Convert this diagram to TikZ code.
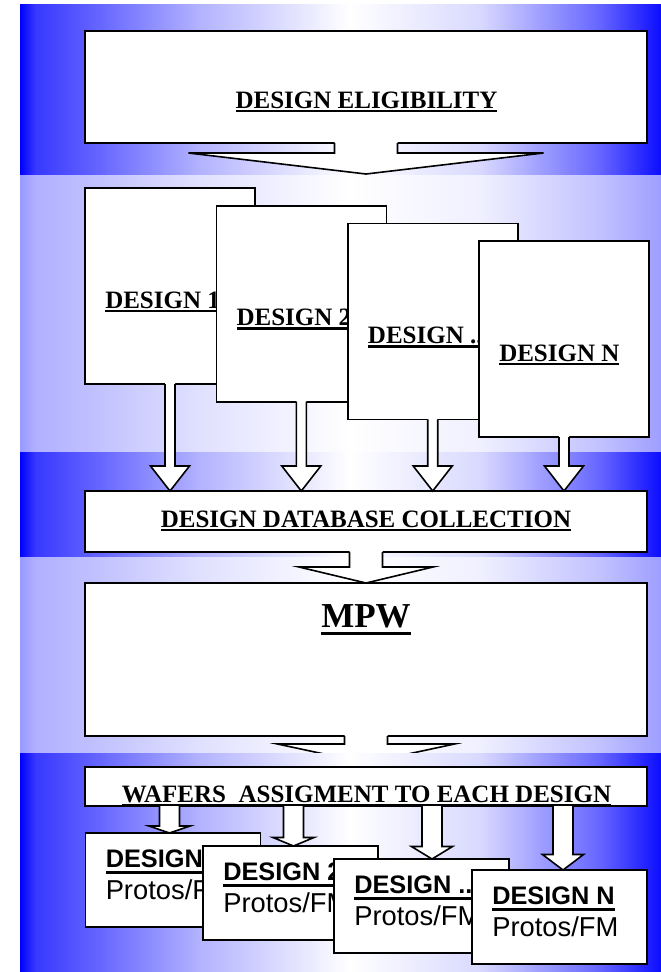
\documentclass[tikz,border=0pt]{standalone}
\usepackage{fontspec}
\setmainfont{Liberation Serif}
\setsansfont{Liberation Sans}
\usetikzlibrary{calc}

% blue side bands, white in the middle
\pgfdeclarehorizontalshading{strongband}{100bp}{rgb(0bp)=(0,0,1); rgb(25bp)=(0,0,1); rgb(26.2bp)=(0.22,0.22,1); rgb(31.2bp)=(0.4,0.4,1); rgb(39bp)=(0.7,0.7,1); rgb(50.7bp)=(1,1,1); rgb(60.9bp)=(0.85,0.85,1); rgb(70.2bp)=(0.4,0.4,1); rgb(75bp)=(0.05,0.05,1); rgb(100bp)=(0.05,0.05,1)}
\pgfdeclarehorizontalshading{lightband}{100bp}{rgb(0bp)=(0.6,0.6,1); rgb(25bp)=(0.6,0.6,1); rgb(26.2bp)=(0.69,0.69,1); rgb(31.2bp)=(0.76,0.76,1); rgb(39bp)=(0.88,0.88,1); rgb(50.7bp)=(1,1,1); rgb(60.9bp)=(0.94,0.94,1); rgb(70.2bp)=(0.76,0.76,1); rgb(75bp)=(0.62,0.62,1); rgb(100bp)=(0.62,0.62,1)}

\tikzset{
  box/.style={draw=black, fill=white, line width=1.2pt, rectangle, inner sep=0pt, outer sep=0pt},
  arrline/.style={draw=black, line width=1.2pt, line join=miter},
  titletxt/.style={font=\bfseries\fontsize{18.75}{22}\selectfont, inner sep=0pt},
  protostxt/.style={font=\sffamily\fontsize{20.5}{24}\selectfont, inner sep=0pt, anchor=base west}
}

\newcommand{\ulser}[1]{\vtop{\hbox{#1}\kern1pt\hrule height 2pt}}
\newcommand{\ulsans}[1]{\vtop{\hbox{\fontsize{19}{24}\selectfont#1}\kern3pt\hrule height 1.8pt}}
\newcommand{\ulbig}[1]{\vtop{\hbox{#1}\kern3pt\hrule height 2.5pt}}

% block arrow: start, tip, stem half width, head half width, head length
\newcommand{\blockarrow}[5]{%
  \fill[white] ($(#1)+(-#3,-2)$) -- ($(#2)+(-#3,-#5)$) -- ($(#2)+(-#4,-#5)$) -- (#2)
    -- ($(#2)+(#4,-#5)$) -- ($(#2)+(#3,-#5)$) -- ($(#1)+(#3,-2)$) -- cycle;
  \draw[arrline] ($(#1)+(-#3,0)$) -- ($(#2)+(-#3,-#5)$) -- ($(#2)+(-#4,-#5)$) -- (#2)
    -- ($(#2)+(#4,-#5)$) -- ($(#2)+(#3,-#5)$) -- ($(#1)+(#3,0)$);}

\begin{document}
\begin{tikzpicture}[x=0.75pt,y=-0.75pt]
    \useasboundingbox (0,0) rectangle (661,972);

    % background
    \shade[shading=strongband] (20,4) rectangle (661,175);
    \shade[shading=lightband] (20,175) rectangle (661,452);
    \shade[shading=strongband] (20,452) rectangle (661,557);
    \shade[shading=lightband] (20,557) rectangle (661,753);

    % eligibility
    \node[box, minimum width=421.5pt, minimum height=84pt] (elig) at (366,87) {};
    \coordinate (eligtip) at ($(elig.south)+(0,31)$);
    \blockarrow{elig.south}{eligtip}{31.5}{177.5}{21}
    \node[titletxt, anchor=base] (eligtxt) at (366.5,108) {\ulser{DESIGN ELIGIBILITY}};

    % designs
    \node[box, minimum width=127.5pt, minimum height=147pt] (d1) at (170,286) {};
    \node[titletxt, anchor=base west] (d1txt) at ($(d1.north west)+(20,120)$) {\ulser{DESIGN 1}};
    \node[box, minimum width=127.5pt, minimum height=147pt] (d2) at (301.3,303.7) {};
    \node[titletxt, anchor=base west] (d2txt) at ($(d2.north west)+(20,120)$) {\ulser{DESIGN 2}};
    \node[box, minimum width=127.5pt, minimum height=147pt] (d3) at (432.7,321.3) {};
    \node[titletxt, anchor=base west] (d3txt) at ($(d3.north west)+(20,120)$) {\ulser{DESIGN ...}};
    \node[box, minimum width=127.5pt, minimum height=147pt] (dn) at (564,339) {};
    \node[titletxt, anchor=base west] (dntxt) at ($(dn.north west)+(20,120)$) {\ulser{DESIGN N}};

    % database collection
    \node[box, minimum width=421.5pt, minimum height=45.75pt] (db) at (366,521.5) {};
    \coordinate (d1tip) at (d1.south |- db.north);
    \coordinate (d2tip) at (d2.south |- db.north);
    \coordinate (d3tip) at (d3.south |- db.north);
    \coordinate (dntip) at (dn.south |- db.north);
    \blockarrow{d1.south}{d1tip}{5}{19.5}{25}
    \blockarrow{d2.south}{d2tip}{5}{19.5}{25}
    \blockarrow{d3.south}{d3tip}{5}{19.5}{25}
    \blockarrow{dn.south}{dntip}{5}{19.5}{25}
    \node[titletxt, anchor=base] (dbtxt) at (366,527) {\ulser{DESIGN DATABASE COLLECTION}};

    % mpw
    \node[box, minimum width=421.5pt, minimum height=114.75pt] (mpw) at (366,659.5) {};
    \blockarrow{db.south}{mpw.north}{16.5}{67}{16}
    \node[font=\bfseries\fontsize{26.25}{30}\selectfont, inner sep=0pt, anchor=base] (mpwtxt) at (366,627) {\ulbig{MPW}};
    \coordinate (mpwtip) at ($(mpw.south)+(0,27)$);
    \blockarrow{mpw.south}{mpwtip}{21.5}{88.5}{19}

    % wafers
    \shade[shading=strongband] (20,753) rectangle (661,972);
    \node[box, minimum width=421.5pt, minimum height=29.25pt] (wafers) at (366,786.5) {};
    \coordinate (w1) at (169.5,806);
    \coordinate (w2) at (293.5,806);
    \coordinate (w3) at (432,806);
    \coordinate (w4) at (563,806);

    % protos / fm
    \node[box, minimum width=131.25pt, minimum height=70.5pt] (p1) at (173,880) {};
    \node[box, minimum width=131.25pt, minimum height=70.5pt] (p2) at (290.5,893) {};
    \node[box, minimum width=131.25pt, minimum height=70.5pt] (p3) at (421.5,906) {};
    \node[box, minimum width=131.25pt, minimum height=70.5pt] (pn) at (559.5,917) {};
    \coordinate (w1tip) at (w1 |- p1.north);
    \coordinate (w2tip) at (w2 |- p2.north);
    \coordinate (w3tip) at (w3 |- p3.north);
    \coordinate (w4tip) at (w4 |- pn.north);
    \blockarrow{w1}{w1tip}{10}{20.5}{7}
    \blockarrow{w2}{w2tip}{10}{20.5}{8.5}
    \blockarrow{w3}{w3tip}{10}{20.5}{12.5}
    \blockarrow{w4}{w4tip}{10}{20.5}{15.5}
    \node[titletxt, anchor=base] (waferstxt) at (366.5,802) {\ulser{WAFERS\ \ ASSIGMENT TO EACH DESIGN}};

    \node[box, minimum width=131.25pt, minimum height=70.5pt] (p1) at (173,880) {};
    \node[protostxt] (p1txt) at ($(p1.north west)+(20,34)$) {\vtop{\hbox{\ulsans{\bfseries DESIGN 1}}\hbox{Protos/FM}}};
    \node[box, minimum width=131.25pt, minimum height=70.5pt] (p2) at (290.5,893) {};
    \node[protostxt] (p2txt) at ($(p2.north west)+(20,34)$) {\vtop{\hbox{\ulsans{\bfseries DESIGN 2}}\hbox{Protos/FM}}};
    \node[box, minimum width=131.25pt, minimum height=70.5pt] (p3) at (421.5,906) {};
    \node[protostxt] (p3txt) at ($(p3.north west)+(20,34)$) {\vtop{\hbox{\ulsans{\bfseries DESIGN ...}}\hbox{Protos/FM}}};
    \node[box, minimum width=131.25pt, minimum height=70.5pt] (pn) at (559.5,917) {};
    \node[protostxt] (pntxt) at ($(pn.north west)+(20,34)$) {\vtop{\hbox{\ulsans{\bfseries DESIGN N}}\hbox{Protos/FM}}};
\end{tikzpicture}
\end{document}
